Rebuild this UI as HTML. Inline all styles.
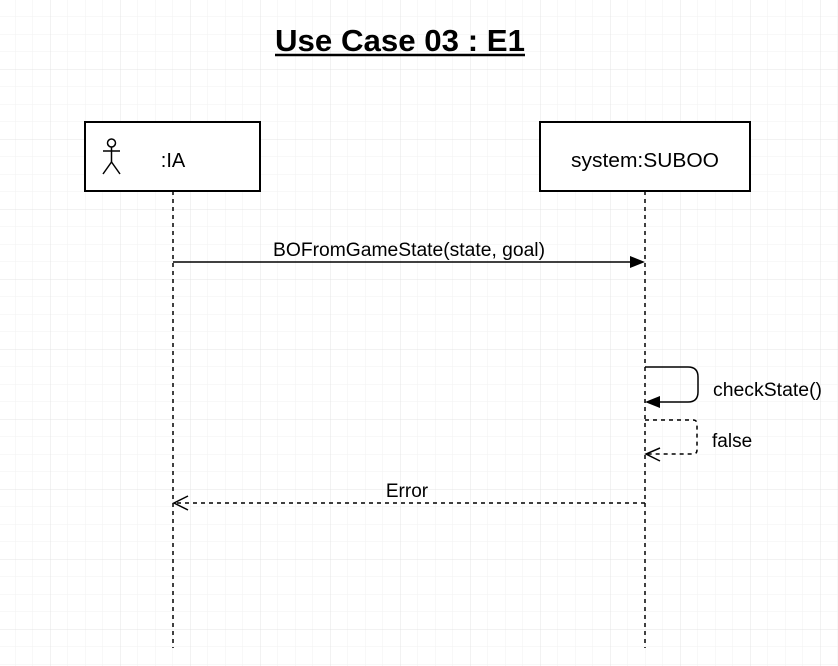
<!DOCTYPE html>
<html><head><meta charset="utf-8"><style>
html,body{margin:0;padding:0;background:#fff}
svg{display:block}
text{font-family:"Liberation Sans",Arial,sans-serif}
</style></head><body>
<svg width="838" height="666" viewBox="0 0 838 666" xmlns="http://www.w3.org/2000/svg">
<defs>
<pattern id="g" x="15" y="16.5" width="17.5" height="17.5" patternUnits="userSpaceOnUse">
<path d="M0 0H17.5M0 0V17.5" stroke="#f2f2f2" stroke-width="1" fill="none"/>
</pattern>
<pattern id="G" x="50" y="69" width="70" height="70" patternUnits="userSpaceOnUse">
<path d="M0 0H70M0 0V70" stroke="#e4e4e4" stroke-width="1" fill="none"/>
</pattern>
</defs>
<rect width="838" height="666" fill="url(#g)"/>
<rect width="838" height="666" fill="url(#G)"/>
<text x="400" y="51" text-anchor="middle" font-size="31" font-weight="bold" textLength="250" lengthAdjust="spacingAndGlyphs">Use Case 03 : E1</text>
<line x1="275" y1="55" x2="525" y2="55" stroke="#000" stroke-width="2.5"/>
<!-- lifelines -->
<line x1="173" y1="191" x2="173" y2="648" stroke="#000" stroke-width="1.5" stroke-dasharray="4,4"/>
<line x1="645" y1="191" x2="645" y2="648" stroke="#000" stroke-width="1.5" stroke-dasharray="4,4"/>
<rect x="85" y="122" width="175" height="69" fill="#fff" stroke="#000" stroke-width="2"/>
<rect x="540" y="122" width="210" height="69" fill="#fff" stroke="#000" stroke-width="2"/>
<!-- actor -->
<g stroke="#000" stroke-width="1.5" fill="none">
<circle cx="111.5" cy="143" r="4"/>
<line x1="111.5" y1="147" x2="111.5" y2="162"/>
<line x1="103" y1="151" x2="120" y2="151"/>
<line x1="111.5" y1="162" x2="103" y2="174"/>
<line x1="111.5" y1="162" x2="120" y2="174"/>
</g>
<text x="173" y="167" text-anchor="middle" font-size="20">:IA</text>
<text x="645" y="167" text-anchor="middle" font-size="20" textLength="148" lengthAdjust="spacingAndGlyphs">system:SUBOO</text>
<!-- message 1 -->
<line x1="173" y1="262" x2="632" y2="262" stroke="#000" stroke-width="1.5"/>
<polygon points="645,262 630,256 630,268" fill="#000"/>
<text x="409" y="256" text-anchor="middle" font-size="19" textLength="272" lengthAdjust="spacingAndGlyphs">BOFromGameState(state, goal)</text>
<!-- self call -->
<path d="M645 367H688Q698 367 698 377V392Q698 402 688 402H658" stroke="#000" stroke-width="1.5" fill="none"/>
<polygon points="645,402 660,396 660,408" fill="#000"/>
<text x="713" y="396" font-size="19" textLength="109" lengthAdjust="spacingAndGlyphs">checkState()</text>
<path d="M645 420H693Q697 420 697 424V450Q697 454 693 454H647" stroke="#000" stroke-width="1.5" fill="none" stroke-dasharray="4,4"/>
<polyline points="660,448 646,454 660,461" stroke="#000" stroke-width="1.5" fill="none"/>
<text x="712" y="447" font-size="19">false</text>
<!-- error -->
<line x1="645" y1="503" x2="175" y2="503" stroke="#000" stroke-width="1.5" stroke-dasharray="4,4"/>
<polyline points="188,496 174,503 188,510" stroke="#000" stroke-width="1.5" fill="none"/>
<text x="407" y="497" text-anchor="middle" font-size="19">Error</text>
</svg>
</body></html>
